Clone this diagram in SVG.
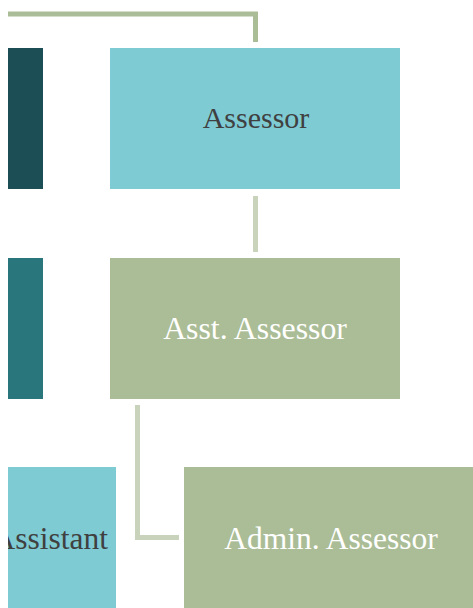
<svg xmlns="http://www.w3.org/2000/svg" width="473" height="608" viewBox="0 0 473 608">
<style>
.t{font-family:"Liberation Serif","Times New Roman",serif;}
.dark{fill:#404040;}
.light{fill:#ffffff;}
.conn{fill:none;stroke-linejoin:miter;stroke-linecap:butt;stroke-width:5;}
</style>
<defs>
<clipPath id="clipA"><rect x="8" y="467" width="108" height="141"/></clipPath>
</defs>
<rect width="473" height="608" fill="#ffffff"/>
<g id="connectors">
<path class="conn" d="M8,14 H255.5 V42" stroke="#abbd96"/>
<path class="conn" d="M255.5,196 V252" stroke="#c9d3bc"/>
<path class="conn" d="M137.5,405 V537.5 H179" stroke="#c9d3bc"/>
</g>
<g id="node-left-top"><rect x="8" y="48" width="35" height="141" fill="#1b4f55"/></g>
<g id="node-assessor">
<rect x="110" y="48" width="290" height="141" fill="#7ecbd4"/>
<text class="t dark" x="256" y="128" font-size="30" text-anchor="middle">Assessor</text>
</g>
<g id="node-left-mid"><rect x="8" y="258" width="35" height="141" fill="#29777c"/></g>
<g id="node-asst-assessor">
<rect x="110" y="258" width="290" height="141" fill="#abbd96"/>
<text class="t light" x="255" y="339" font-size="31.8" text-anchor="middle">Asst. Assessor</text>
</g>
<g id="node-assistant">
<rect x="8" y="467" width="108" height="141" fill="#7ecbd4"/>
<text class="t dark" x="108" y="549" font-size="31.5" text-anchor="end" clip-path="url(#clipA)">Assistant</text>
</g>
<g id="node-admin-assessor">
<rect x="184" y="467" width="289" height="141" fill="#abbd96"/>
<text class="t light" x="331" y="549" font-size="31.5" text-anchor="middle">Admin. Assessor</text>
</g>
</svg>
